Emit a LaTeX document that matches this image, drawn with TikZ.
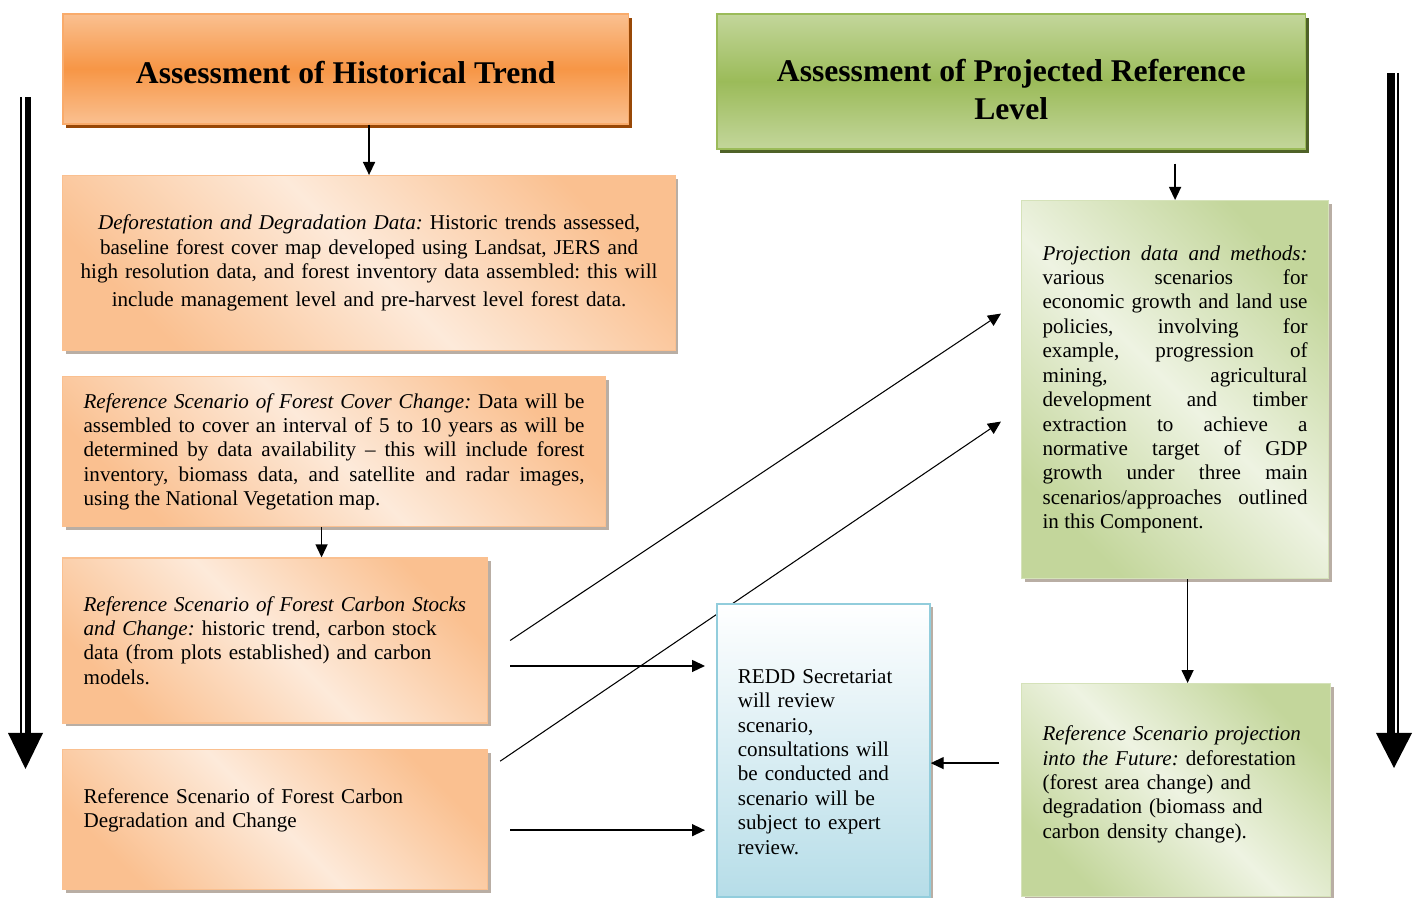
\documentclass[tikz,border=0pt]{standalone}
\usepackage{fontspec}
\setmainfont{Liberation Serif}
\usetikzlibrary{arrows.meta,positioning,shadows,backgrounds}
\frenchspacing

\definecolor{orangemid}{HTML}{F79646}
\definecolor{orangesoft}{HTML}{FAC090}
\definecolor{orangepale}{HTML}{FDEADA}
\definecolor{orangeshade}{HTML}{984807}
\definecolor{greenmid}{HTML}{9BBB59}
\definecolor{greensoft}{HTML}{C3D69B}
\definecolor{greenpale}{HTML}{EEF3E2}
\definecolor{greenshade}{HTML}{4F6228}
\definecolor{bluesoft}{HTML}{B6DDE8}
\definecolor{blueline}{HTML}{92CDDC}
\definecolor{hatchgray}{HTML}{B9AEA4}

\begin{document}
\begin{tikzpicture}[x=0.02cm, y=-0.02cm, >={Triangle[length=0.26cm,width=0.24cm]},
    head/.style={draw, line width=0.9pt, inner sep=0pt, align=center,
                 font=\bfseries\fontsize{18}{21.6}\selectfont},
    orangehead/.style={head, draw=orangemid!80!white, top color=orangesoft,
                 bottom color=orangesoft, middle color=orangemid,
                 drop shadow={shadow xshift=0.07cm, shadow yshift=-0.08cm, fill=orangeshade, opacity=1}},
    greenhead/.style={head, draw=greenmid, top color=greensoft,
                 bottom color=greensoft, middle color=greenmid,
                 drop shadow={shadow xshift=0.07cm, shadow yshift=-0.08cm, fill=greenshade, opacity=1}},
    textbox/.style={draw, line width=0.7pt, inner sep=0pt,
                 font=\fontsize{12}{13.9}\selectfont,
                 drop shadow={shadow xshift=0.06cm, shadow yshift=-0.07cm, fill=hatchgray, opacity=1}},
    orangebox/.style={textbox, draw=orangesoft, top color=orangesoft,
                 bottom color=orangesoft, middle color=orangepale, shading angle=-45},
    greenbox/.style={textbox, draw=greensoft!70!white, top color=greensoft,
                 bottom color=greensoft, middle color=greenpale, shading angle=-45},
    bluebox/.style={textbox, draw=blueline, line width=1pt, top color=white, bottom color=bluesoft},
    link/.style={->, line width=0.8pt}]
  \useasboundingbox (0,0) rectangle (1418,898);

  % left column
  \node[orangehead, minimum width=11.32cm, minimum height=2.2cm, anchor=north west]
    (histtrend) at (62,13) {\rule{0pt}{17.5pt}Assessment of Historical Trend};
  \node[orangebox, text width=12.2cm, minimum width=12.26cm, minimum height=3.5cm,
        align=center, anchor=north west] (defdata) at (62,175)
    {\textit{Deforestation and Degradation Data:} Historic trends assessed,\\
     baseline forest cover map developed using Landsat, JERS and\\
     high resolution data, and forest inventory data assembled: this will\\[2pt]
     include management level and pre-harvest level forest data.};
  \node[orangebox, text width=10.02cm, minimum width=10.86cm, minimum height=3cm,
        align=justify, below=0.5cm of defdata.south west, anchor=north west] (coverchange)
    {\textit{Reference Scenario of Forest Cover Change:} Data will be\linebreak
     assembled to cover an interval of 5 to 10 years as will be\linebreak
     determined by data availability – this will include forest\linebreak
     inventory, biomass data, and satellite and radar images,\linebreak
     using the National Vegetation map.};
  \node[orangebox, text width=7.66cm, minimum width=8.5cm, minimum height=3.3cm,
        align=left, below=0.6cm of coverchange.south west, anchor=north west] (stockchange)
    {\textit{Reference Scenario of Forest Carbon Stocks}\\
     \textit{and Change:} historic trend, carbon stock\\
     data (from plots established) and carbon\\
     models.};
  \node[orangebox, text width=7.66cm, minimum width=8.5cm, minimum height=2.8cm,
        align=left, below=0.5cm of stockchange.south west, anchor=north west] (degchange)
    {Reference Scenario of Forest Carbon\\
     Degradation and Change\rule[-0.44cm]{0pt}{0pt}};

  % right column
  \node[greenhead, minimum width=11.78cm, minimum height=2.7cm, anchor=north west]
    (projlevel) at (716,13) {\rule{0pt}{22pt}Assessment of Projected Reference\\ Level};
  \node[greenbox, text width=5.3cm, minimum width=6.14cm, minimum height=7.56cm,
        align=justify, anchor=north west] (projdata) at (1021,200)
    {\textit{Projection data and methods:}\linebreak
     various scenarios for\linebreak
     economic growth and land use\linebreak
     policies, involving for\linebreak
     example, progression of\linebreak
     mining, agricultural\linebreak
     development and timber\linebreak
     extraction to achieve a\linebreak
     normative target of GDP\linebreak
     growth under three main\linebreak
     scenarios/approaches outlined\linebreak
     in this Component.\rule[-0.1cm]{0pt}{0pt}};
  \node[greenbox, text width=5.34cm, minimum width=6.18cm, minimum height=4.26cm,
        align=left, anchor=north west] (futureproj) at (1021,683)
    {\textit{Reference Scenario projection}\\
     \textit{into the Future:} deforestation\\
     (forest area change) and\\
     degradation (biomass and\\
     carbon density change).\rule[-0.32cm]{0pt}{0pt}};
  \node[bluebox, text width=3.42cm, minimum width=4.26cm, minimum height=5.86cm,
        align=left, anchor=north west] (secretariat) at (716,603)
    {\rule{0pt}{21pt}REDD Secretariat\\
     will review\\
     scenario,\\
     consultations will\\
     be conducted and\\
     scenario will be\\
     subject to expert\\
     review.};

  % big side arrows
  \fill (25,97) rectangle (31,733);
  \draw[line width=0.04cm] (21,97) -- (21,733);
  \fill (8,733) -- (43,733) -- (25.5,769) -- cycle;
  \fill (1387,73) rectangle (1395,733);
  \draw[line width=0.04cm] (1398,73) -- (1398,733);
  \fill (1376,733) -- (1412,733) -- (1394,768) -- cycle;

  % connectors
  \draw[link] (histtrend.south -| defdata.north) -- (defdata.north);
  \draw[link] ([xshift=-0.25cm]coverchange.south) coordinate (cc) -- (cc |- stockchange.north);
  \draw[link, shorten <=0.28cm] (projlevel.south -| projdata.north) -- (projdata.north);
  \draw[link] ([xshift=0.25cm]projdata.south) coordinate (pd) -- (pd |- futureproj.north);
  \draw[link, line width=0.6pt] ([xshift=0.44cm]stockchange.east)
    -- ([xshift=-0.4cm,yshift=1.52cm]projdata.west);
  \begin{scope}[on background layer]
    \draw[link, line width=0.6pt] ([xshift=0.24cm,yshift=1.16cm]degchange.east)
      -- ([xshift=-0.4cm,yshift=-0.64cm]projdata.west);
  \end{scope}
  \draw[link, shorten >=0.22cm] ([xshift=0.44cm,yshift=-0.51cm]stockchange.east) coordinate (sc)
    -- (sc -| secretariat.west);
  \draw[link, shorten >=0.22cm] ([xshift=0.44cm,yshift=-0.22cm]degchange.east) coordinate (dc)
    -- (dc -| secretariat.west);
  \draw[link] ([xshift=-0.44cm,yshift=0.54cm]futureproj.west) coordinate (fp)
    -- (fp -| secretariat.east);
\end{tikzpicture}
\end{document}
